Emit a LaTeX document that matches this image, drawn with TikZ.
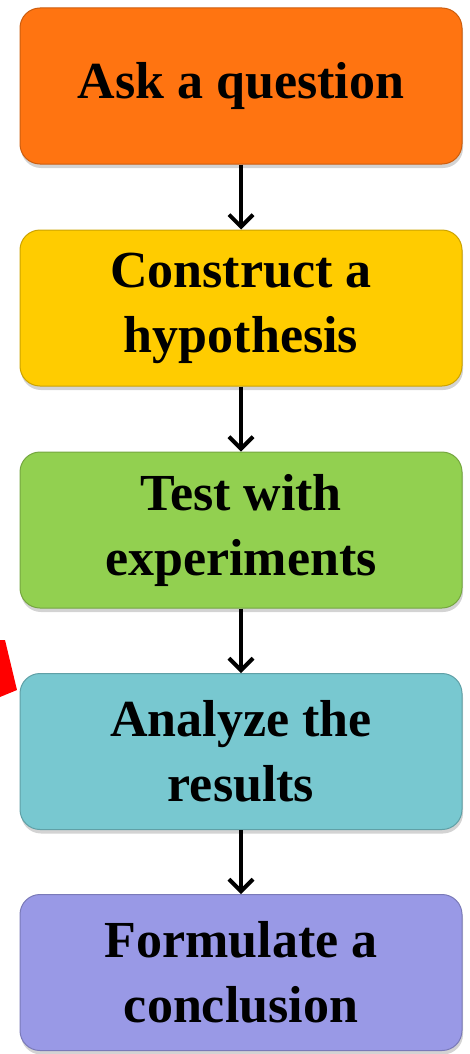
\documentclass[tikz,border=0pt]{standalone}
\usepackage{fontspec}
\setmainfont{Liberation Serif}
\usetikzlibrary{arrows.meta,shadows}

\definecolor{askorange}{HTML}{FF7411}
\definecolor{hypyellow}{HTML}{FFCC00}
\definecolor{testgreen}{HTML}{92D050}
\definecolor{anacyan}{HTML}{78C8D0}
\definecolor{conclblue}{HTML}{9999E6}

\tikzset{
  stepbox/.style={draw=#1!80!black,fill=#1,line width=1pt,rounded corners=20pt,
    minimum width=442pt,minimum height=156pt,align=center,
    font=\bfseries\fontsize{52}{65}\selectfont,
    drop shadow={shadow xshift=1pt,shadow yshift=-4pt,opacity=0.35}},
  flow/.style={line width=4pt,-{Straight Barb[length=12pt,width=24pt,line width=4pt]}}
}

\begin{document}
\begin{tikzpicture}[x=1pt,y=1pt]
  \useasboundingbox (0,0) rectangle (469,-1054);
  % partial red pointer at the left edge
  \fill[red] (0,-640) -- (5,-640) -- (17,-690) -- (0,-697) -- cycle;
  \node[stepbox=askorange] (ask) at (241,-86) {Ask a question};
  \node[stepbox=hypyellow] (hyp) at (241,-308) {Construct a\\hypothesis};
  \node[stepbox=testgreen] (test) at (241,-530) {Test with\\experiments};
  \node[stepbox=anacyan] (ana) at (241,-751.5) {Analyze the\\results};
  \node[stepbox=conclblue] (concl) at (241,-972.5) {Formulate a\\conclusion};
  \draw[flow] (ask) -- (hyp);
  \draw[flow] (hyp) -- (test);
  \draw[flow] (test) -- (ana);
  \draw[flow] (ana) -- (concl);
\end{tikzpicture}
\end{document}
